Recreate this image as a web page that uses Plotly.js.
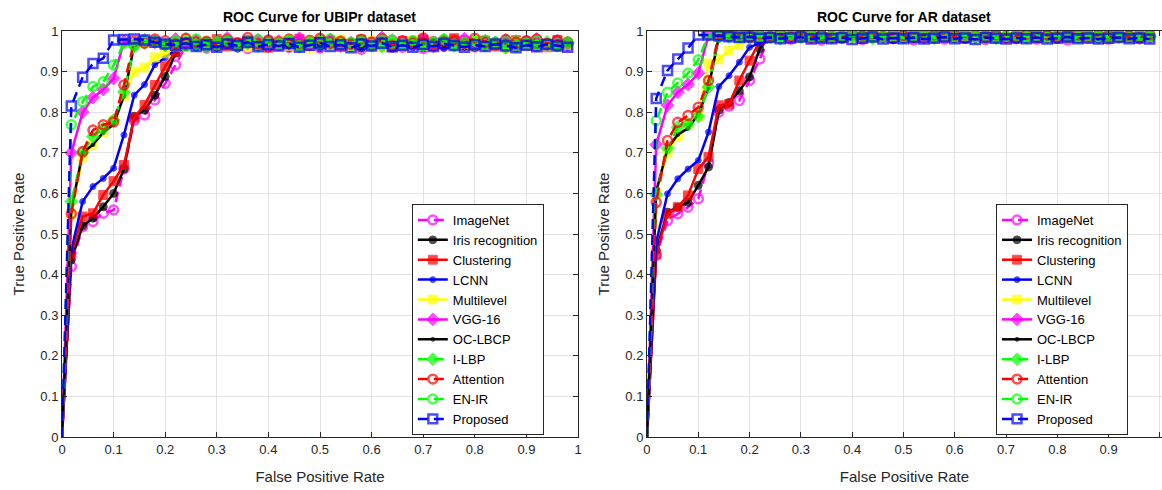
<!DOCTYPE html>
<html>
<head>
<meta charset="utf-8">
<script src="https://cdn.plot.ly/plotly-3.0.1.min.js"></script>
<style>html,body{margin:0;padding:0;background:#fff;overflow:hidden}</style>
</head>
<body>
<div id="plot" style="width:1162px;height:490px"></div>
<script>
// ---------- data ----------
const fpr = [0,0.018,0.04,0.06,0.08,0.10,0.12,0.14,0.16,0.18,0.20,0.22,0.24,0.26,0.28,0.30,0.32,0.34,0.36,0.38,0.40,0.42,0.44,0.46,0.48,0.50,0.52,0.54,0.56,0.58,0.60,0.62,0.64,0.66,0.68,0.70,0.72,0.74,0.76,0.78,0.80,0.82,0.84,0.86,0.88,0.90,0.92,0.94,0.96,0.98];
const seriesNames = ['ImageNet','Iris recognition','Clustering','LCNN','Multilevel','VGG-16','OC-LBCP','I-LBP','Attention','EN-IR','Proposed'];
const axisTicks = [0,0.1,0.2,0.3,0.4,0.5,0.6,0.7,0.8,0.9,1];
const axisTickLabels = ['0','0.1','0.2','0.3','0.4','0.5','0.6','0.7','0.8','0.9','1'];
const chartTitles = ['ROC Curve for UBIPr dataset','ROC Curve for AR dataset'];

// UBIPr dataset (true positive rate)
const ub_imagenet = [0,0.42,0.518,0.531,0.551,0.559,0.66,0.78,0.793,0.83,0.871,0.916,0.965,0.972,0.958,0.968,0.975,0.962,0.957,0.97,0.978,0.964,0.96,0.973,0.967,0.958,0.976,0.969,0.962,0.955,0.971,0.965,0.977,0.96,0.968,0.957,0.974,0.963,0.97,0.978,0.961,0.966,0.972,0.958,0.969,0.975,0.962,0.967,0.971,0.964];
const ub_iris = [0,0.436,0.52,0.539,0.567,0.60,0.66,0.79,0.805,0.842,0.888,0.945,0.962,0.968,0.975,0.96,0.966,0.972,0.978,0.963,0.958,0.97,0.974,0.966,0.961,0.977,0.969,0.964,0.972,0.958,0.967,0.975,0.962,0.97,0.965,0.959,0.973,0.968,0.976,0.963,0.96,0.971,0.966,0.974,0.961,0.969,0.965,0.972,0.96,0.968];
const ub_clustering = [0,0.45,0.543,0.551,0.596,0.63,0.67,0.787,0.818,0.867,0.913,0.949,0.965,0.975,0.968,0.98,0.962,0.971,0.977,0.966,0.959,0.974,0.969,0.981,0.963,0.97,0.976,0.961,0.968,0.979,0.965,0.972,0.96,0.975,0.967,0.978,0.963,0.97,0.982,0.964,0.971,0.976,0.962,0.969,0.977,0.965,0.973,0.96,0.978,0.968];
const ub_lcnn = [0,0.46,0.58,0.617,0.637,0.662,0.744,0.842,0.868,0.917,0.934,0.955,0.962,0.958,0.965,0.96,0.968,0.955,0.962,0.966,0.959,0.964,0.957,0.961,0.967,0.956,0.963,0.96,0.965,0.958,0.962,0.966,0.955,0.963,0.959,0.967,0.961,0.957,0.964,0.96,0.966,0.958,0.962,0.965,0.956,0.961,0.967,0.959,0.963,0.96];
const ub_multilevel = [0,0.55,0.69,0.72,0.75,0.78,0.84,0.90,0.91,0.935,0.945,0.962,0.968,0.975,0.962,0.97,0.978,0.965,0.96,0.972,0.968,0.976,0.963,0.97,0.958,0.974,0.966,0.979,0.962,0.969,0.975,0.96,0.971,0.966,0.977,0.963,0.969,0.974,0.961,0.968,0.976,0.964,0.97,0.958,0.973,0.967,0.975,0.962,0.97,0.965];
const ub_vgg16 = [0,0.70,0.80,0.836,0.856,0.883,0.974,0.968,0.978,0.972,0.965,0.98,0.97,0.976,0.962,0.974,0.983,0.967,0.972,0.978,0.964,0.975,0.969,0.982,0.966,0.973,0.979,0.963,0.971,0.977,0.968,0.984,0.965,0.974,0.97,0.979,0.962,0.973,0.968,0.981,0.966,0.975,0.971,0.978,0.964,0.972,0.98,0.967,0.975,0.97];
const ub_oclbcp = [0,0.56,0.70,0.72,0.75,0.77,0.84,0.965,0.972,0.968,0.975,0.962,0.97,0.966,0.973,0.96,0.969,0.976,0.964,0.971,0.967,0.974,0.961,0.968,0.975,0.963,0.97,0.966,0.972,0.96,0.969,0.977,0.965,0.971,0.962,0.968,0.974,0.964,0.97,0.967,0.975,0.961,0.969,0.973,0.965,0.97,0.963,0.968,0.974,0.966];
const ub_ilbp = [0,0.58,0.70,0.74,0.76,0.78,0.85,0.962,0.97,0.975,0.965,0.972,0.98,0.968,0.96,0.974,0.978,0.966,0.971,0.963,0.977,0.969,0.975,0.961,0.972,0.98,0.967,0.973,0.964,0.976,0.97,0.962,0.978,0.968,0.974,0.965,0.971,0.979,0.963,0.97,0.976,0.966,0.972,0.96,0.975,0.969,0.965,0.973,0.968,0.971];
const ub_attention = [0,0.55,0.703,0.756,0.769,0.776,0.867,0.975,0.97,0.98,0.976,0.968,0.982,0.972,0.975,0.966,0.979,0.971,0.984,0.969,0.976,0.973,0.98,0.967,0.977,0.982,0.97,0.975,0.968,0.979,0.973,0.981,0.966,0.976,0.972,0.983,0.969,0.975,0.978,0.97,0.982,0.974,0.967,0.979,0.972,0.976,0.98,0.969,0.977,0.973];
const ub_enir = [0,0.769,0.826,0.863,0.875,0.916,0.97,0.965,0.978,0.972,0.968,0.975,0.962,0.98,0.97,0.966,0.976,0.963,0.974,0.979,0.967,0.971,0.977,0.964,0.973,0.969,0.98,0.966,0.972,0.975,0.962,0.978,0.97,0.967,0.976,0.964,0.973,0.979,0.968,0.971,0.965,0.977,0.969,0.974,0.963,0.97,0.976,0.966,0.962,0.972];
const ub_proposed = [0,0.815,0.886,0.92,0.933,0.978,0.979,0.98,0.978,0.972,0.968,0.965,0.97,0.962,0.966,0.96,0.968,0.964,0.972,0.961,0.967,0.963,0.969,0.96,0.965,0.971,0.962,0.966,0.959,0.968,0.963,0.97,0.961,0.965,0.96,0.967,0.962,0.969,0.964,0.96,0.966,0.962,0.968,0.963,0.959,0.965,0.961,0.967,0.963,0.96];

// AR dataset (true positive rate)
const ar_imagenet = [0,0.447,0.533,0.55,0.566,0.587,0.675,0.80,0.815,0.829,0.878,0.931,0.99,0.985,0.98,0.988,0.983,0.978,0.986,0.982,0.99,0.979,0.984,0.987,0.981,0.985,0.978,0.989,0.983,0.98,0.986,0.982,0.988,0.979,0.984,0.987,0.981,0.985,0.98,0.988,0.983,0.978,0.986,0.982,0.989,0.98,0.984,0.987,0.981,0.985];
const ar_iris = [0,0.46,0.554,0.566,0.578,0.62,0.665,0.805,0.824,0.853,0.887,0.956,0.99,0.984,0.987,0.981,0.986,0.983,0.988,0.98,0.985,0.982,0.987,0.983,0.979,0.986,0.984,0.981,0.988,0.983,0.985,0.98,0.986,0.982,0.987,0.984,0.98,0.985,0.983,0.988,0.981,0.986,0.982,0.984,0.98,0.987,0.983,0.985,0.981,0.986];
const ar_clustering = [0,0.45,0.55,0.566,0.595,0.66,0.69,0.817,0.82,0.878,0.927,0.976,0.995,0.988,0.99,0.985,0.992,0.987,0.983,0.99,0.986,0.991,0.984,0.988,0.992,0.986,0.99,0.983,0.989,0.987,0.991,0.985,0.99,0.986,0.992,0.984,0.989,0.987,0.991,0.985,0.99,0.988,0.983,0.99,0.986,0.992,0.987,0.984,0.99,0.988];
const ar_lcnn = [0,0.48,0.599,0.636,0.66,0.681,0.751,0.863,0.89,0.923,0.96,0.97,0.985,0.982,0.986,0.98,0.984,0.981,0.985,0.979,0.983,0.986,0.98,0.984,0.982,0.978,0.985,0.981,0.983,0.986,0.98,0.982,0.985,0.979,0.984,0.981,0.986,0.98,0.983,0.985,0.981,0.979,0.984,0.982,0.986,0.98,0.983,0.981,0.985,0.982];
const ar_multilevel = [0,0.60,0.70,0.74,0.77,0.79,0.92,0.93,0.952,0.965,0.98,0.985,0.988,0.983,0.99,0.986,0.982,0.989,0.985,0.991,0.984,0.987,0.982,0.99,0.986,0.988,0.983,0.989,0.985,0.991,0.984,0.987,0.99,0.983,0.988,0.985,0.991,0.984,0.987,0.982,0.989,0.986,0.99,0.984,0.988,0.983,0.987,0.99,0.985,0.988];
const ar_vgg16 = [0,0.72,0.817,0.849,0.868,0.896,0.99,0.986,0.991,0.988,0.984,0.99,0.987,0.993,0.985,0.989,0.986,0.992,0.984,0.988,0.991,0.986,0.99,0.985,0.989,0.993,0.987,0.984,0.99,0.986,0.992,0.988,0.985,0.991,0.987,0.984,0.99,0.986,0.993,0.988,0.985,0.99,0.987,0.992,0.984,0.989,0.986,0.991,0.988,0.985];
const ar_oclbcp = [0,0.605,0.71,0.745,0.76,0.795,0.86,0.985,0.982,0.986,0.983,0.987,0.981,0.985,0.988,0.982,0.986,0.984,0.98,0.987,0.983,0.985,0.988,0.981,0.984,0.986,0.982,0.987,0.985,0.981,0.988,0.983,0.986,0.98,0.984,0.987,0.982,0.985,0.988,0.983,0.986,0.981,0.985,0.987,0.982,0.984,0.986,0.983,0.987,0.984];
const ar_ilbp = [0,0.597,0.711,0.763,0.771,0.79,0.862,0.99,0.985,0.988,0.983,0.99,0.986,0.981,0.989,0.984,0.987,0.991,0.983,0.988,0.985,0.99,0.982,0.987,0.989,0.984,0.986,0.991,0.983,0.988,0.985,0.99,0.984,0.987,0.982,0.989,0.986,0.983,0.99,0.985,0.988,0.983,0.987,0.991,0.984,0.988,0.985,0.99,0.983,0.987];
const ar_attention = [0,0.578,0.73,0.775,0.792,0.812,0.878,0.99,0.988,0.992,0.986,0.99,0.985,0.993,0.987,0.99,0.984,0.991,0.988,0.985,0.992,0.987,0.99,0.986,0.993,0.988,0.984,0.991,0.987,0.99,0.985,0.992,0.988,0.986,0.991,0.984,0.989,0.993,0.986,0.99,0.987,0.985,0.992,0.988,0.99,0.986,0.991,0.987,0.985,0.99];
const ar_enir = [0,0.779,0.849,0.872,0.896,0.929,0.99,0.985,0.989,0.984,0.99,0.987,0.983,0.988,0.991,0.985,0.987,0.982,0.989,0.986,0.99,0.984,0.988,0.985,0.991,0.983,0.987,0.99,0.985,0.988,0.984,0.991,0.986,0.989,0.983,0.987,0.99,0.985,0.988,0.984,0.99,0.986,0.983,0.989,0.987,0.985,0.99,0.984,0.988,0.986];
const ar_proposed = [0,0.834,0.903,0.931,0.958,0.99,0.99,0.988,0.986,0.984,0.985,0.982,0.984,0.981,0.983,0.985,0.98,0.983,0.981,0.984,0.979,0.982,0.985,0.98,0.983,0.981,0.984,0.98,0.982,0.985,0.981,0.983,0.979,0.984,0.982,0.98,0.983,0.981,0.984,0.98,0.982,0.985,0.981,0.983,0.98,0.982,0.984,0.981,0.983,0.98];

const ubiprSeries = [ub_imagenet,ub_iris,ub_clustering,ub_lcnn,ub_multilevel,ub_vgg16,ub_oclbcp,ub_ilbp,ub_attention,ub_enir,ub_proposed];
const arSeries = [ar_imagenet,ar_iris,ar_clustering,ar_lcnn,ar_multilevel,ar_vgg16,ar_oclbcp,ar_ilbp,ar_attention,ar_enir,ar_proposed];

// ---------- styles ----------
const DASH = '10px,6px';
const styles = [
  {color:'#ff00ff', dash:DASH,   symbol:'circle-open',  size:9},
  {color:'#000000', dash:'solid',symbol:'circle',       size:8},
  {color:'#ff0000', dash:'solid',symbol:'square',       size:9},
  {color:'#0000ff', dash:'solid',symbol:'circle',       size:6},
  {color:'#ffff00', dash:'solid',symbol:'square',       size:9},
  {color:'#ff00ff', dash:'solid',symbol:'diamond',      size:10},
  {color:'#000000', dash:'solid',symbol:'circle',       size:4},
  {color:'#00ff00', dash:DASH,   symbol:'diamond',      size:10},
  {color:'#ff0000', dash:DASH,   symbol:'circle-open',  size:9},
  {color:'#00ff00', dash:DASH,   symbol:'circle-open',  size:9},
  {color:'#0000ff', dash:DASH,   symbol:'square-open',  size:9}
];

function makeTraces(seriesList, xa, ya, legendId){
  return seriesList.map((tpr, i) => {
    const s = styles[i];
    const open = s.symbol.indexOf('open') >= 0;
    // no marker drawn at the origin point
    const sizes = tpr.map((v, k) => k === 0 ? 0 : s.size);
    return {
      type:'scatter', mode:'lines+markers',
      x: fpr.slice(0, tpr.length), y: tpr,
      name: seriesNames[i], xaxis: xa, yaxis: ya, legend: legendId,
      line:{color:s.color, width:2.5, dash:s.dash},
      marker:{symbol:s.symbol, size:sizes, color:s.color,
              line:{color:s.color, width: open ? 2.5 : 1}},
      hoverinfo:'skip'
    };
  });
}

const data = makeTraces(ubiprSeries,'x','y','legend').concat(makeTraces(arSeries,'x2','y2','legend2'));

const FONT = 'Liberation Sans, Arial, sans-serif';
const AX = '#262626';
function axis(extra){
  return Object.assign({
    range:[0,1], tickvals:axisTicks, ticktext:axisTickLabels,
    ticks:'inside', ticklen:5, tickwidth:1, tickcolor:AX,
    showline:true, linecolor:AX, linewidth:1, mirror:'ticks',
    showgrid:true, gridcolor:'#e3e3e3', gridwidth:1, zeroline:false,
    tickfont:{family:FONT, size:13, color:AX}, fixedrange:true, automargin:false
  }, extra);
}
const xTitle = {text:'False Positive Rate', font:{family:FONT, size:15, color:AX}, standoff:15};
const yTitle = {text:'True Positive Rate', font:{family:FONT, size:15, color:AX}, standoff:12};

const legendBase = {
  bgcolor:'#ffffff', bordercolor:AX, borderwidth:1,
  font:{family:FONT, size:13, color:'#000000'},
  xanchor:'left', yanchor:'top', tracegroupgap:0
};

const layout = {
  width:1162, height:490,
  margin:{l:62, r:0, t:31, b:53},
  paper_bgcolor:'#ffffff', plot_bgcolor:'#ffffff',
  font:{family:FONT, color:AX},
  showlegend:true,
  xaxis: axis({domain:[0,0.4691], anchor:'y', title:xTitle}),
  yaxis: axis({domain:[0,1], anchor:'x', title:yTitle}),
  xaxis2: axis({domain:[0.5318,1], anchor:'y2', title:xTitle, range:[0,1.004]}),
  yaxis2: axis({domain:[0,1], anchor:'x2', title:yTitle, mirror:false}),
  legend: Object.assign({x:0.318, y:0.574}, legendBase),
  legend2: Object.assign({x:0.8491, y:0.574}, legendBase),
  annotations:[
    {text:'<b>'+chartTitles[0]+'</b>', xref:'paper', yref:'paper', x:0.2345, y:1, xanchor:'center', yanchor:'bottom', yshift:4, showarrow:false, font:{family:FONT, size:14, color:'#000'}},
    {text:'<b>'+chartTitles[1]+'</b>', xref:'paper', yref:'paper', x:0.7659, y:1, xanchor:'center', yanchor:'bottom', yshift:4, showarrow:false, font:{family:FONT, size:14, color:'#000'}}
  ]
};

Plotly.newPlot('plot', data, layout, {displayModeBar:false, staticPlot:true});
</script>
</body>
</html>
